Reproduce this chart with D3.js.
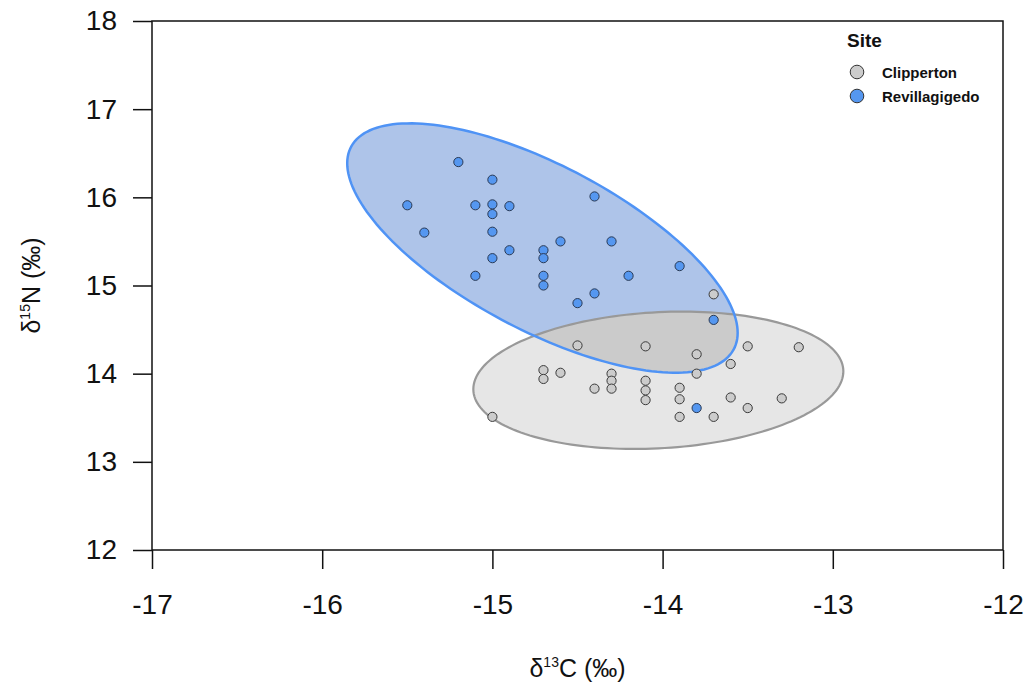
<!DOCTYPE html>
<html>
<head>
<meta charset="utf-8">
<script src="https://cdn.jsdelivr.net/npm/d3@7"></script>
<style>
  body { margin: 0; background: #fff; }
  text { font-family: "Liberation Sans", Arial, sans-serif; fill: #111; }
</style>
</head>
<body>
<div id="chart"></div>
<script>
// stable isotope biplot, two sites
var width = 1027, height = 686,
    margin = ({ top: 21, right: 24, bottom: 136, left: 152 });

var xTicks = [-17, -16, -15, -14, -13, -12];
var yTicks = [12, 13, 14, 15, 16, 17, 18];

var sites = ["Clipperton", "Revillagigedo"];

// Clipperton samples
var clipC = [-13.7, -14.5, -14.1, -13.8, -13.5, -13.2, -13.6, -13.8, -14.7, -14.7, -14.6, -14.3, -14.3,
             -14.3, -14.4, -14.1, -14.1, -14.1, -13.9, -13.9, -13.9, -13.7, -13.6, -13.5, -13.3, -15.0];
var clipN = [14.9, 14.32, 14.31, 14.22, 14.31, 14.3, 14.11, 14.0, 14.04, 13.94, 14.01, 14.0, 13.92,
             13.83, 13.83, 13.92, 13.81, 13.7, 13.84, 13.71, 13.51, 13.51, 13.73, 13.61, 13.72, 13.51];

// Revillagigedo samples
var reviC = [-15.2, -15.0, -15.5, -15.1, -15.0, -14.9, -15.0, -15.0, -15.4, -14.9, -14.7, -14.7, -14.6,
             -15.0, -14.3, -14.4, -13.9, -15.1, -14.7, -14.7, -14.2, -14.4, -14.5, -13.7, -13.8];
var reviN = [16.4, 16.2, 15.91, 15.91, 15.92, 15.9, 15.81, 15.61, 15.6, 15.4, 15.4, 15.31, 15.5,
             15.31, 15.5, 16.01, 15.22, 15.11, 15.11, 15.0, 15.11, 14.91, 14.8, 14.61, 13.61];

// ellipses: centre, half extent on each axis, tilt (correlation)
var ellCx = [-14.025, -14.706];
var ellCy = [13.925, 15.425];
var ellSx = [1.087, 1.147];
var ellSy = [0.779, 1.414];
var ellRho = [0.13, -0.68];

var fills = ["#e6e6e6", "#aec4e9"],
    strokes = ["#999999", "#4f93f5"],
    dotFill = ["#cccccc", "#5597f0"],
    overlapFill = "#cbcbcb";

var x = d3.scaleLinear()
    .domain([-17, -12])
    .range([margin.left, width - margin.right]);

var y = d3.scaleLinear()
    .domain([12, 18])
    .range([height - margin.bottom, margin.top]);

var svg = d3.select("#chart")
    .append("svg")
    .attr("width", width)
    .attr("height", height);

function ellipsePath(i) {
    var pts = d3.range(0, 361, 2).map(function(a) {
        var t = a * Math.PI / 180;
        var ex = ellCx[i] + ellSx[i] * Math.cos(t);
        var ey = ellCy[i] + ellSy[i] * (ellRho[i] * Math.cos(t) + Math.sqrt(1 - ellRho[i] * ellRho[i]) * Math.sin(t));
        return [x(ex), y(ey)];
    });
    return d3.line()(pts) + "Z";
}

svg.append("defs").append("clipPath")
    .attr("id", "blueClip")
    .append("path")
    .attr("d", ellipsePath(1));

// fills first, then overlap, then outlines
svg.append("path").attr("d", ellipsePath(0)).attr("fill", fills[0]);
svg.append("path").attr("d", ellipsePath(1)).attr("fill", fills[1]);
svg.append("path").attr("d", ellipsePath(0)).attr("fill", overlapFill).attr("clip-path", "url(#blueClip)");
svg.append("path").attr("d", ellipsePath(0)).attr("fill", "none").attr("stroke", strokes[0]).attr("stroke-width", 2.2);
svg.append("path").attr("d", ellipsePath(1)).attr("fill", "none").attr("stroke", strokes[1]).attr("stroke-width", 2.5);

// points
svg.append("g")
    .attr("fill", dotFill[0])
    .attr("stroke", "#3a3a3a")
    .attr("stroke-width", 1)
    .selectAll("circle")
    .data(d3.range(clipC.length))
    .join("circle")
    .attr("cx", d => x(clipC[d]))
    .attr("cy", d => y(clipN[d]))
    .attr("r", 4.6);

svg.append("g")
    .attr("fill", dotFill[1])
    .attr("stroke", "#2a3a55")
    .attr("stroke-width", 1)
    .selectAll("circle")
    .data(d3.range(reviC.length))
    .join("circle")
    .attr("cx", d => x(reviC[d]))
    .attr("cy", d => y(reviN[d]))
    .attr("r", 4.6);

// frame
svg.append("rect")
    .attr("x", x(-17)).attr("y", y(18))
    .attr("width", x(-12) - x(-17)).attr("height", y(12) - y(18))
    .attr("fill", "none").attr("stroke", "#111").attr("stroke-width", 1.5);

// axes
var xAxis = svg.append("g")
    .attr("transform", "translate(0," + y(12) + ")")
    .call(d3.axisBottom(x).tickValues(xTicks).tickSize(19).tickPadding(25).tickFormat(d3.format("d")));
var yAxis = svg.append("g")
    .attr("transform", "translate(" + x(-17) + ",0)")
    .call(d3.axisLeft(y).tickValues(yTicks).tickSize(19).tickPadding(16).tickFormat(d3.format("d")));

[xAxis, yAxis].forEach(function(g) {
    g.select(".domain").remove();
    g.selectAll(".tick line").attr("stroke", "#111").attr("stroke-width", 1.5);
    g.selectAll(".tick text")
        .attr("font-size", 28)
        .attr("font-family", "Liberation Sans, Arial, sans-serif")
        .attr("fill", "#111");
});
xAxis.selectAll(".tick text").text(d => d < 0 ? "-" + Math.abs(d) : d);

// axis titles
var xt = svg.append("text")
    .attr("x", (x(-17) + x(-12)) / 2)
    .attr("y", 677)
    .attr("text-anchor", "middle")
    .attr("font-size", 25);
xt.append("tspan").text("δ");
xt.append("tspan").attr("font-size", 14).attr("dy", -10).text("13");
xt.append("tspan").attr("dy", 10).text("C (‰)");

var yt = svg.append("text")
    .attr("transform", "translate(40," + ((y(12) + y(18)) / 2) + ") rotate(-90)")
    .attr("text-anchor", "middle")
    .attr("font-size", 25);
yt.append("tspan").text("δ");
yt.append("tspan").attr("font-size", 14).attr("dy", -10).text("15");
yt.append("tspan").attr("dy", 10).text("N (‰)");

// legend
var lg = svg.append("g");
lg.append("text")
    .attr("x", 847).attr("y", 47)
    .attr("font-size", 19).attr("font-weight", "bold")
    .text("Site");
var items = lg.selectAll("g.item")
    .data(sites)
    .join("g")
    .attr("class", "item")
    .attr("transform", (d, i) => "translate(0," + (72 + i * 24) + ")");
items.append("circle")
    .attr("cx", 857).attr("cy", 0).attr("r", 6.8)
    .attr("fill", (d, i) => dotFill[i])
    .attr("stroke", "#333").attr("stroke-width", 1);
items.append("text")
    .attr("x", 882).attr("y", 6)
    .attr("font-size", 15).attr("font-weight", "bold")
    .text(d => d);
</script>
</body>
</html>
